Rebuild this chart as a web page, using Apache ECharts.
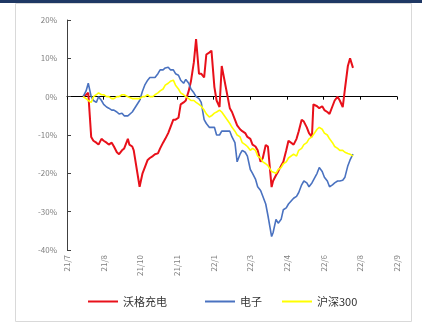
<!DOCTYPE html>
<html>
<head>
<meta charset="utf-8">
<script src="https://cdn.jsdelivr.net/npm/echarts@6/dist/echarts.min.js"></script>
<style>
  html, body { margin: 0; padding: 0; background: #fff; }
  #chart { width: 422px; height: 331px; }
</style>
</head>
<body>
<div id="chart"></div>
<script>
// twice-weekly readings, cumulative change in %
const dates = [
  '2021-07-23', '2021-07-27', '2021-07-30', '2021-08-03', '2021-08-06', '2021-08-10',
  '2021-08-13', '2021-08-17', '2021-08-20', '2021-08-24', '2021-08-27', '2021-08-31',
  '2021-09-03', '2021-09-07', '2021-09-10', '2021-09-14', '2021-09-17', '2021-09-22',
  '2021-09-24', '2021-09-28', '2021-09-30', '2021-10-08', '2021-10-12', '2021-10-15',
  '2021-10-19', '2021-10-22', '2021-10-26', '2021-10-29', '2021-11-02', '2021-11-05',
  '2021-11-09', '2021-11-12', '2021-11-16', '2021-11-19', '2021-11-23', '2021-11-26',
  '2021-11-30', '2021-12-03', '2021-12-07', '2021-12-10', '2021-12-14', '2021-12-17',
  '2021-12-21', '2021-12-24', '2021-12-28', '2021-12-31', '2022-01-04', '2022-01-07',
  '2022-01-11', '2022-01-14', '2022-01-18', '2022-01-21', '2022-01-25', '2022-01-28',
  '2022-02-08', '2022-02-11', '2022-02-15', '2022-02-18', '2022-02-22', '2022-02-25',
  '2022-03-01', '2022-03-04', '2022-03-08', '2022-03-11', '2022-03-15', '2022-03-18',
  '2022-03-22', '2022-03-25', '2022-03-29', '2022-04-01', '2022-04-06', '2022-04-08',
  '2022-04-12', '2022-04-15', '2022-04-19', '2022-04-22', '2022-04-26', '2022-04-29',
  '2022-05-06', '2022-05-10', '2022-05-13', '2022-05-17', '2022-05-20', '2022-05-24',
  '2022-05-27', '2022-05-31', '2022-06-02', '2022-06-07', '2022-06-10', '2022-06-14',
  '2022-06-17', '2022-06-21', '2022-06-24', '2022-06-28', '2022-07-01', '2022-07-05',
  '2022-07-08', '2022-07-12', '2022-07-15', '2022-07-19', '2022-07-22', '2022-07-26'
];
const woge = [
  0, 0.5, 1, -10.5, -11.5, -12, -12.5, -11, -11.5, -12, -12.5, -12,
  -13, -14.5, -15, -14, -13.5, -11, -12.5, -13, -14, -23.5, -20, -18.5,
  -16.5, -16, -15.5, -15, -14.8, -13.5, -12, -11, -9.5, -8, -6, -6,
  -5.5, -2, -1.5, -1, 1.5, 4, 9, 15, 6, 6, 5, 11,
  11.5, 12, 2.5, -1, -2.7, 8, -3, -4, -6, -7.5, -8.5, -9,
  -9.5, -10.5, -11, -12.5, -13, -14, -17, -16, -12.6, -13, -23.6, -22,
  -20.5, -19.5, -18, -17, -14, -11.5, -12.5, -11, -9, -6, -6.5, -8,
  -9.5, -10.5, -2, -2.5, -3, -2.5, -3.5, -4, -4.5, -2.5, -1, 0,
  -1, -2.7, 2, 8, 10, 7.5
];
const dianzi = [
  0, 1.5, 3.5, 0, -1, -1.5, 0, -1, -2, -2.7, -3, -3.5,
  -3.5, -4, -4.5, -4.3, -5, -5, -4.5, -4, -3.5, -1, 1.5, 3,
  4.3, 5, 5, 5, 6, 7, 7, 7.5, 7.7, 7, 7, 6,
  5.6, 4.3, 3.5, 4.5, 3.5, 2, 1, 0, -0.5, -1.5, -6, -7,
  -8, -8, -8, -10, -10, -9, -9, -10.5, -12, -17, -15, -14,
  -14.5, -15.5, -19, -20, -21.5, -23.5, -24.5, -26, -28, -31, -36.5, -35.5,
  -32, -33, -32, -29.5, -29, -28, -26.5, -26, -25, -23, -22, -22.5,
  -23.5, -22.5, -22, -20, -18.5, -19.5, -21, -22, -23.5, -23, -22.5, -22,
  -22, -21.8, -21, -18, -16.5, -15
];
const hs300 = [
  0, -0.5, -1, -1.5, 0, 0.5, 1, 0.5, 0.5, 0, 0, -0.5,
  -0.5, 0, 0, 0.5, 0.5, 0, 0, -0.5, 0, -0.5, 0, 0,
  0.5, 0, 0, 0.5, 1, 1.5, 2, 3, 3.5, 4, 4.3, 3,
  2, 1, 0.5, 0, -0.5, -1, -1, -1.5, -2, -2.5, -3.5, -4.5,
  -5.3, -5, -4.3, -4, -3.5, -4, -7, -8, -9, -10, -10.5, -12,
  -12.5, -13, -14, -13.5, -14, -15.5, -16, -17, -17.5, -18, -19.5, -20,
  -20, -19, -18.5, -17.5, -17, -16, -15, -15.5, -14, -13.5, -12.5, -12,
  -11, -10.5, -10, -8.5, -8, -8.5, -9.5, -10, -11, -12, -13, -13.5,
  -14, -14, -14.5, -14.8, -15, -15.5
];
const names = ['沃格充电', '电子', '沪深300'];
const colors = ['#e8101a', '#4a72c0', '#ffff00'];

const baseDay = Date.UTC(2021, 6, 1);
function dayOf(s) {
  const p = s.split('-');
  return Math.round((Date.UTC(+p[0], +p[1] - 1, +p[2]) - baseDay) / 86400000);
}
function dayLabel(v) {
  const d = new Date(baseDay + v * 86400000);
  return String(d.getUTCFullYear()).slice(2) + '/' + (d.getUTCMonth() + 1);
}

const font = '"Noto Sans CJK SC", "Noto Sans", sans-serif';
const chart = echarts.init(document.getElementById('chart'));
const seriesData = [woge, dianzi, hs300];

chart.setOption({
  animation: false,
  textStyle: { fontFamily: font },
  graphic: [
    { type: 'rect', shape: { x: 0, y: 0, width: 422, height: 3 }, style: { fill: '#1f3864' } },
    { type: 'rect', shape: { x: 15.5, y: 3.5, width: 396, height: 318 }, style: { fill: 'none', stroke: '#d9d9d9', lineWidth: 1 } }
  ],
  grid: { left: 67, right: 25, top: 20, bottom: 81 },
  legend: names.map((n, i) => ({
    data: [n],
    left: [83, 200, 277][i],
    top: 291,
    icon: 'rect',
    itemWidth: 30,
    itemHeight: 2,
    textStyle: { fontSize: 11, color: '#333', fontFamily: font }
  })),
  xAxis: [
    {
      type: 'value', min: 0, max: 450, interval: 50, position: 'bottom',
      axisLine: { show: false, onZero: false },
      axisTick: { show: false },
      splitLine: { show: false },
      axisLabel: { rotate: 90, fontSize: 8, color: '#7f7f7f', margin: 5, formatter: dayLabel }
    },
    {
      type: 'value', min: 0, max: 450, interval: 50, position: 'top',
      axisLine: { show: true, onZero: true, lineStyle: { color: '#000', width: 1 } },
      axisTick: { show: true, inside: true, length: 3, lineStyle: { color: '#000' } },
      axisLabel: { show: false },
      splitLine: { show: false }
    }
  ],
  yAxis: {
    type: 'value', min: -40, max: 20, interval: 10,
    axisLine: { show: true, onZero: false, lineStyle: { color: '#404040', width: 1 } },
    axisTick: { show: true, inside: true, length: 4, lineStyle: { color: '#404040' } },
    splitLine: { show: false },
    axisLabel: { fontSize: 8, color: '#7f7f7f', margin: 10, formatter: '{value}%' }
  },
  series: names.map((n, i) => ({
    name: n,
    type: 'line',
    xAxisIndex: 0,
    symbol: 'none',
    color: colors[i],
    lineStyle: { width: i === 0 ? 2 : 1.6, color: colors[i] },
    data: dates.map((d, k) => [dayOf(d), seriesData[i][k]])
  }))
});
</script>
</body>
</html>
